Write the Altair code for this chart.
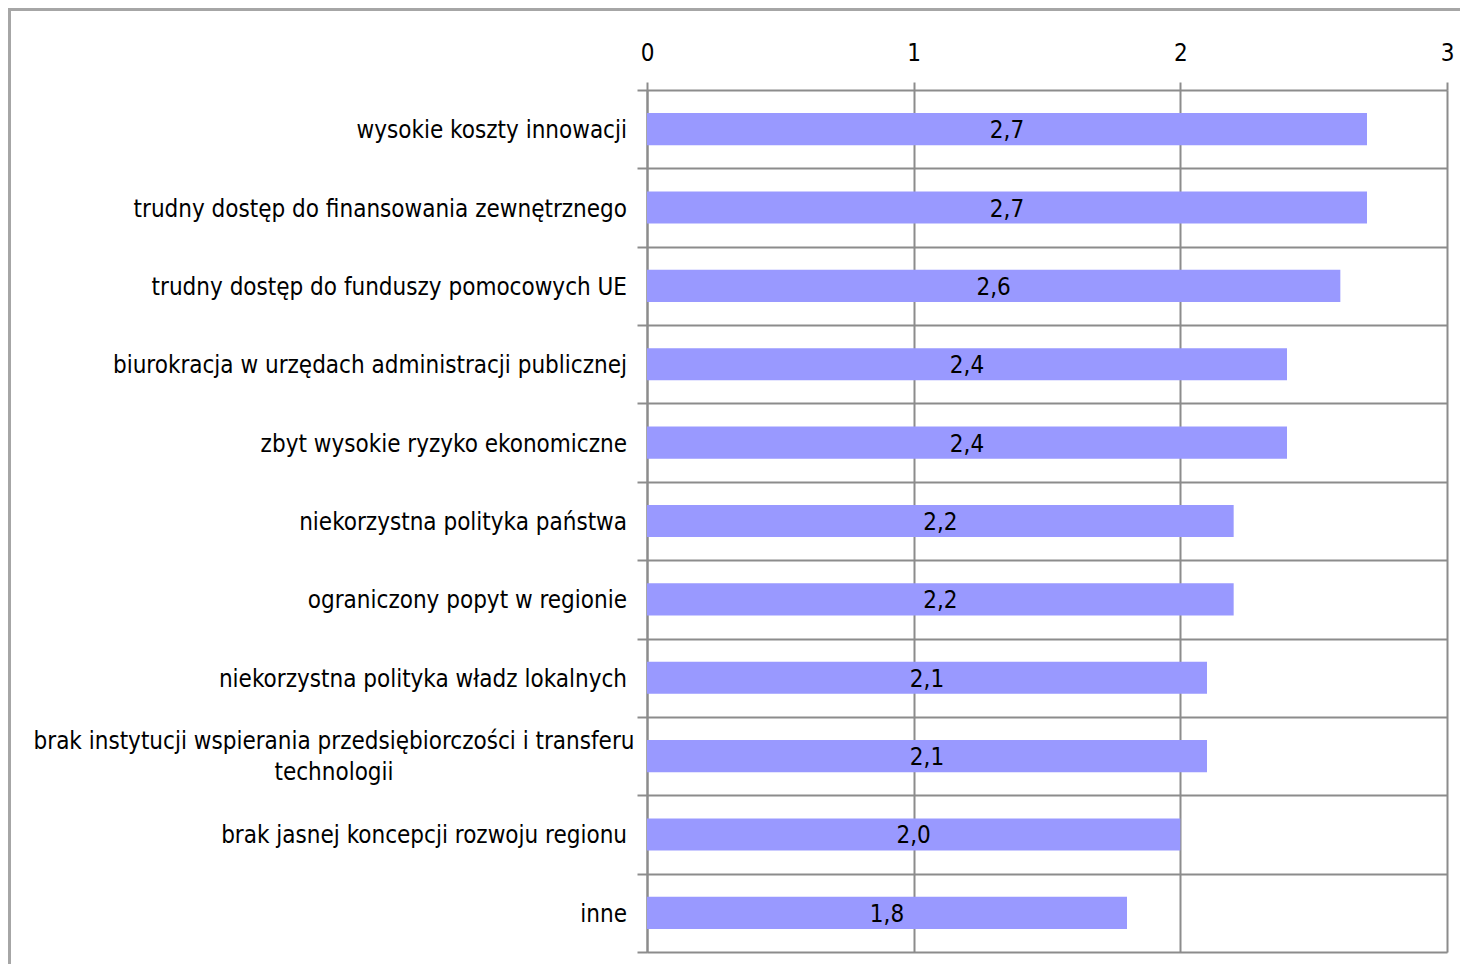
import altair as alt
import pandas as pd

categories = [
    "wysokie koszty innowacji",
    "trudny dostęp do finansowania zewnętrznego",
    "trudny dostęp do funduszy pomocowych UE",
    "biurokracja w urzędach administracji publicznej",
    "zbyt wysokie ryzyko ekonomiczne",
    "niekorzystna polityka państwa",
    "ograniczony popyt w regionie",
    "niekorzystna polityka władz lokalnych",
    "brak instytucji wspierania przedsiębiorczości i transferu\ntechnologii",
    "brak jasnej koncepcji rozwoju regionu",
    "inne",
]
values = [2.7, 2.7, 2.6, 2.4, 2.4, 2.2, 2.2, 2.1, 2.1, 2.0, 1.8]
x_ticks = [0, 1, 2, 3]

FONT = "DejaVu Sans Condensed"
FS = 24
GRID = "#8c8c8c"

df = pd.DataFrame({"cat": categories, "v": values, "multi": ["\n" in c for c in categories]})

W, H = 800, 862
PAD_L, PAD_T = 639, 82
TOTAL_W, TOTAL_H = 1452, 956

y_enc = alt.Y(
    "cat:N",
    sort=categories,
    scale=alt.Scale(paddingInner=0, paddingOuter=0),
    axis=alt.Axis(
        title=None,
        labels=False,
        grid=True,
        tickBand="extent",
        gridColor=GRID,
        gridWidth=2,
        gridOpacity=1,
        tickColor=GRID,
        tickWidth=2,
        tickSize=10,
        domainColor=GRID,
        domainWidth=2,
    ),
)

x_enc = alt.X(
    "v:Q",
    scale=alt.Scale(domain=[0, 3], nice=False, zero=True),
    axis=alt.Axis(
        orient="top",
        title=None,
        values=x_ticks,
        format="d",
        grid=True,
        gridColor=GRID,
        gridWidth=2,
        gridOpacity=1,
        tickColor=GRID,
        tickWidth=2,
        tickSize=8,
        domain=False,
        labelFont=FONT,
        labelFontSize=FS,
        labelColor="#000000",
        labelPadding=17,
        labelFlush=False,
    ),
)

base = alt.Chart(df)

bars = base.mark_bar(
    color="#9999ff", height=alt.RelativeBandSize(band=0.41)
).encode(x=x_enc, y=y_enc)

vals = base.transform_calculate(
    half="datum.v / 2",
    lab="replace(format(datum.v, '.1f'), '.', ',')",
).mark_text(font=FONT, fontSize=FS, color="#000000", baseline="middle", align="center", dy=2).encode(
    x=alt.X("half:Q"),
    y=alt.Y("cat:N", sort=categories),
    text="lab:N",
)

labels_r = base.transform_filter("!datum.multi").mark_text(
    font=FONT, fontSize=FS, color="#000000", align="right", baseline="middle", dy=2
).encode(
    x=alt.value(-20),
    y=alt.Y("cat:N", sort=categories),
    text="cat:N",
)

labels_c = base.transform_filter("datum.multi").mark_text(
    font=FONT, fontSize=FS, color="#000000", align="center", baseline="middle",
    lineBreak="\n", lineHeight=31, dy=-14,
).encode(
    x=alt.value(-313),
    y=alt.Y("cat:N", sort=categories),
    text="cat:N",
)

frame_top = alt.Chart(pd.DataFrame({"a": [0]})).mark_rule(color="#a6a6a6", strokeWidth=3).encode(
    x=alt.value(-638), x2=alt.value(TOTAL_W - PAD_L), y=alt.value(-PAD_T + 1.5)
)
frame_left = alt.Chart(pd.DataFrame({"a": [0]})).mark_rule(color="#a6a6a6", strokeWidth=3).encode(
    x=alt.value(-637.5), y=alt.value(-PAD_T), y2=alt.value(TOTAL_H - PAD_T)
)

chart = alt.layer(bars, vals, labels_r, labels_c, frame_top, frame_left).properties(
    width=W,
    height=H,
    autosize=alt.AutoSizeParams(type="none"),
    padding={"left": PAD_L, "top": PAD_T, "right": TOTAL_W - PAD_L - W, "bottom": TOTAL_H - PAD_T - H},
).configure_view(stroke=None).configure(background="white")

chart.save("out.html", embed_options={"renderer": "svg", "actions": False})
